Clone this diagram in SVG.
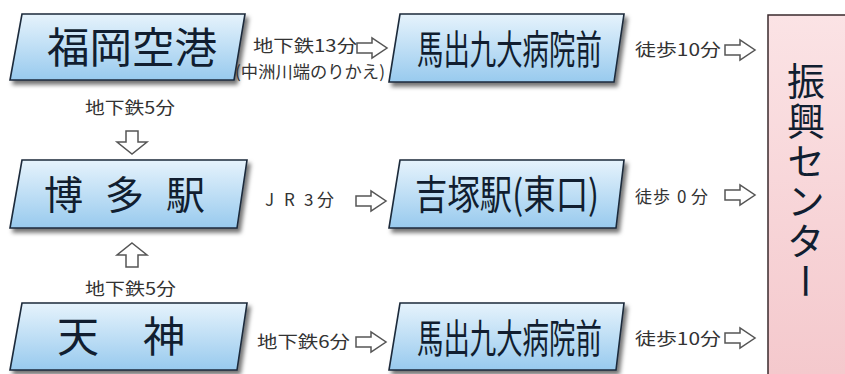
<svg xmlns="http://www.w3.org/2000/svg" width="845" height="374" viewBox="0 0 845 374">
<defs>
<linearGradient id="blue" x1="0" y1="0" x2="0" y2="1">
<stop offset="0" stop-color="#e6f3fc"/>
<stop offset="1" stop-color="#98caee"/>
</linearGradient>
<linearGradient id="pink" x1="0" y1="0" x2="0" y2="1">
<stop offset="0" stop-color="#fbe3e5"/>
<stop offset="1" stop-color="#f4c8cc"/>
</linearGradient>
<filter id="sh" x="-10%" y="-20%" width="125%" height="150%">
<feDropShadow dx="3" dy="4" stdDeviation="2.2" flood-color="#000" flood-opacity="0.55"/>
</filter>
<path id="arrR" d="M0,-5 H15 V-10 L30,0 L15,10 V5 H0 Z"/>
</defs>
<style>
.box{fill:url(#blue);stroke:#1b2a3b;stroke-width:1.6;filter:url(#sh)}
.big{font-family:"Noto Sans CJK JP","Noto Sans",sans-serif;fill:#111e30}
.lbl{font-family:"Noto Sans CJK JP","Noto Sans",sans-serif;fill:#333;font-size:17px}
.arr{fill:#fff;stroke:#555;stroke-width:1.5;stroke-linejoin:miter}
.vert{writing-mode:vertical-rl;text-orientation:upright}
</style>
<rect width="845" height="374" fill="#fff"/>

<g id="fukuoka-airport">
<path class="box" d="M22,14 H245 L234,80 H10 Z"/>
<text class="big" x="47" y="63" font-size="42" textLength="170" lengthAdjust="spacingAndGlyphs">福岡空港</text>
</g>
<g id="maidashi-top">
<path class="box" d="M400,14 H624 L614,82 H389 Z"/>
<text class="big" transform="translate(417,64) scale(0.66,1)" x="0" y="0" font-size="40" textLength="280" lengthAdjust="spacingAndGlyphs">馬出九大病院前</text>
</g>
<g id="hakata">
<path class="box" d="M22,160 H247 L237,228 H10 Z"/>
<text class="big" x="44" y="209" font-size="39" textLength="161" lengthAdjust="spacing">博多駅</text>
</g>
<g id="yoshizuka">
<path class="box" d="M400,160 H624 L616,228 H389 Z"/>
<text class="big" transform="translate(415,209) scale(0.8,1)" x="0" y="0" font-size="40" textLength="230" lengthAdjust="spacingAndGlyphs">吉塚駅(東口)</text>
</g>
<g id="tenjin">
<path class="box" d="M22,303 H247 L237,370 H10 Z"/>
<text class="big" x="57" y="352" font-size="42" textLength="128" lengthAdjust="spacing">天神</text>
</g>
<g id="maidashi-bottom">
<path class="box" d="M400,303 H624 L616,370 H389 Z"/>
<text class="big" transform="translate(417,353) scale(0.66,1)" x="0" y="0" font-size="40" textLength="280" lengthAdjust="spacingAndGlyphs">馬出九大病院前</text>
</g>
<g id="shinko-center">
<rect x="768" y="15" width="90" height="370" fill="url(#pink)" stroke="#3a2a2c" stroke-width="1.5"/>
<text class="big vert" x="806" y="62" font-size="38" letter-spacing="2">振興センター</text>
</g>

<g id="connectors">
<use href="#arrR" class="arr" transform="translate(357,48)"/>
<use href="#arrR" class="arr" transform="translate(356,201)"/>
<use href="#arrR" class="arr" transform="translate(356,342)"/>
<use href="#arrR" class="arr" transform="translate(725,50)"/>
<use href="#arrR" class="arr" transform="translate(725,195)"/>
<use href="#arrR" class="arr" transform="translate(725,338)"/>
<path class="arr" d="M126,131 H138 V142 H147 L132,154 L117,142 H126 Z"/>
<path class="arr" d="M132,243 L147,255 H138 V267 H126 V255 H117 Z"/>
<text class="lbl" x="253" y="52" textLength="104" lengthAdjust="spacingAndGlyphs">地下鉄13分</text>
<text class="lbl" x="235" y="78" font-size="15" textLength="150" lengthAdjust="spacingAndGlyphs">(中洲川端のりかえ)</text>
<text class="lbl" x="85" y="114" font-size="18" textLength="90" lengthAdjust="spacingAndGlyphs">地下鉄5分</text>
<text class="lbl" x="85" y="295" font-size="18" textLength="91" lengthAdjust="spacingAndGlyphs">地下鉄5分</text>
<text class="lbl" x="265 284 304 317" y="206">JR3分</text>
<text class="lbl" x="257" y="348" textLength="93" lengthAdjust="spacingAndGlyphs">地下鉄6分</text>
<text class="lbl" x="635" y="56" font-size="18" textLength="86" lengthAdjust="spacingAndGlyphs">徒歩10分</text>
<text class="lbl" x="635 653 671 677 691" y="203">徒歩 0分</text>
<text class="lbl" x="635" y="345" font-size="18" textLength="86" lengthAdjust="spacingAndGlyphs">徒歩10分</text>
</g>
</svg>
